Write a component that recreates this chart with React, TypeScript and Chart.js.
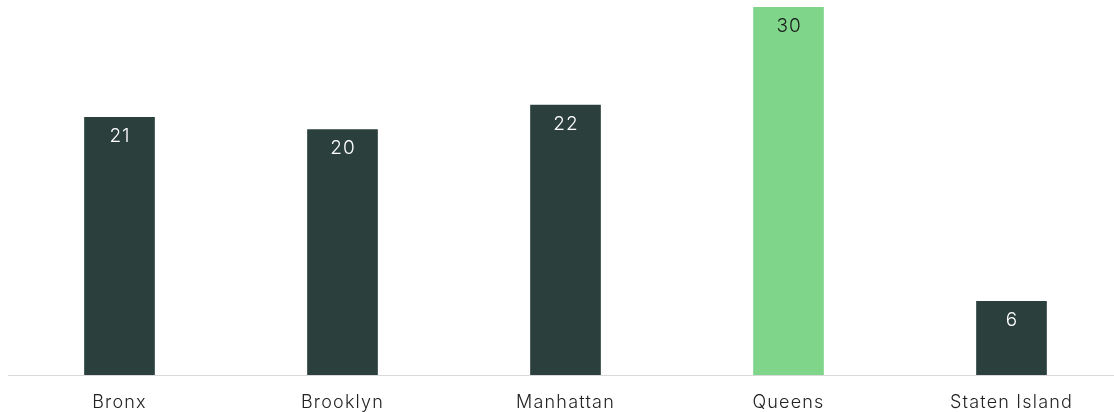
import React, { useEffect, useRef } from "react";
import { Chart, registerables } from "chart.js";

Chart.register(...registerables);

const categories = ["Bronx", "Brooklyn", "Manhattan", "Queens", "Staten Island"];
const values = [21, 20, 22, 30, 6];
const highlight = [false, false, false, true, false];

const DARK = "#2b403d";
const LIGHT = "#7fd68b";
const FONT = "Inter, 'Noto Sans', sans-serif";

const spacingPlugin = {
  id: "spacing",
  beforeDraw(chart: any) {
    (chart.ctx as any).letterSpacing = "1.2px";
  },
};

const labelPlugin = {
  id: "barLabels",
  afterDatasetsDraw(chart: any) {
    const ctx = chart.ctx;
    const meta = chart.getDatasetMeta(0);
    ctx.save();
    (ctx as any).letterSpacing = "1px";
    ctx.font = `300 19px ${FONT}`;
    ctx.textAlign = "center";
    ctx.textBaseline = "middle";
    meta.data.forEach((el: any, i: number) => {
      ctx.fillStyle = highlight[i] ? "#1b1b1b" : "#ffffff";
      ctx.fillText(String(values[i]), el.x + 0.5, el.y + 19);
    });
    ctx.restore();
  },
};

export default function App() {
  const ref = useRef<HTMLCanvasElement | null>(null);
  useEffect(() => {
    document.body.style.overflow = "hidden";
    const chart = new Chart(ref.current as HTMLCanvasElement, {
      type: "bar",
      data: {
        labels: categories,
        datasets: [
          {
            data: values,
            backgroundColor: highlight.map((h) => (h ? LIGHT : DARK)),
            barThickness: 70,
          },
        ],
      },
      options: {
        responsive: false,
        animation: false,
        layout: { padding: { left: 8, right: 0, top: 7, bottom: 0 } },
        plugins: { legend: { display: false }, tooltip: { enabled: false } },
        scales: {
          x: {
            grid: { display: false },
            border: { display: true, color: "#d9d9d9", width: 1 },
            ticks: {
              color: "#222222",
              font: { family: FONT, size: 18, weight: 300 as any },
              padding: 9,
            },
            afterFit(scale: any) {
              scale.height = 37;
            },
          },
          y: { display: false, min: 0, max: 30 },
        },
      },
      plugins: [spacingPlugin, labelPlugin],
    });
    return () => chart.destroy();
  }, []);
  return (
    <div style={{ position: "fixed", left: 0, top: 0 }}>
      <canvas ref={ref} width={1123} height={412} style={{ width: 1123, height: 412, display: "block" }} />
    </div>
  );
}
